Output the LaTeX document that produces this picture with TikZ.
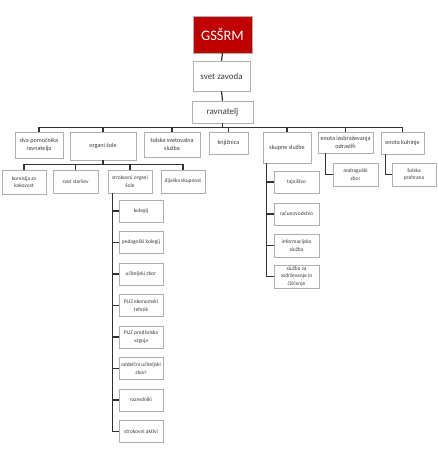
\documentclass[tikz,border=0pt]{standalone}
\usepackage{fontspec}
\setmainfont{Carlito}
\usepackage{tikz}
\usetikzlibrary{calc}
\definecolor{headfill}{RGB}{192,0,0}
\definecolor{boxedge}{RGB}{175,175,175}
\definecolor{lineedge}{RGB}{50,50,50}
\definecolor{textgray}{RGB}{60,60,60}

\begin{document}
\begin{tikzpicture}[
  x=1pt,y=-1pt,
  text=textgray,
  conn/.style={line width=1.2pt,draw=lineedge},
  headbox/.style={draw=boxedge,fill=headfill,line width=0.5pt,text=white,
    font=\fontsize{14.5}{16}\selectfont,inner sep=1pt},
  topbox/.style={draw=boxedge,fill=white,line width=0.5pt,align=center,
    font=\fontsize{9}{10}\selectfont,inner sep=1pt},
  unitbox/.style={draw=boxedge,fill=white,line width=0.5pt,align=center,
    font=\fontsize{6.2}{8.5}\selectfont,inner sep=1pt},
  subbox/.style={draw=boxedge,fill=white,line width=0.5pt,align=center,
    font=\fontsize{5.5}{7.5}\selectfont,inner sep=1pt}
]
\useasboundingbox (0,0) rectangle (437,460);

% -------------------------------------------------------------------------
% Top of the chart.
% -------------------------------------------------------------------------
\node[headbox,minimum width=59,minimum height=37] (gssrm) at (222.5,34.5) {GSŠRM};
\node[topbox,minimum width=57,minimum height=30] (svet) at (221.5,76) {svet zavoda};
\node[topbox,minimum width=61,minimum height=22] (ravn) at (222.5,112) {ravnatelj};
\draw[conn] (gssrm.south) -- (svet.north);
\draw[conn] (svet.south) -- (ravn.north);

% -------------------------------------------------------------------------
% Units under the headmaster.
% -------------------------------------------------------------------------
\node[unitbox,minimum width=48,minimum height=26] (pom) at (39,145)
  {dva pomočnika\\ravnatelja};
\node[unitbox,minimum width=66,minimum height=28] (organi) at (103,146) {organi šole};
\node[unitbox,minimum width=56,minimum height=25] (svetov) at (172,144.5)
  {šolska svetovalna\\služba};
\node[unitbox,minimum width=39,minimum height=22] (knj) at (228.5,143) {knjižnica};
\node[unitbox,minimum width=48,minimum height=31] (skupne) at (287,147.5) {skupne službe};
\node[unitbox,minimum width=55,minimum height=21] (odrasli) at (345.5,142.5)
  {enota izobraževanja\\odraslih};
\node[unitbox,minimum width=43,minimum height=22] (kuhinja) at (402.5,143) {enota kuhinje};
\foreach \b in {pom,organi,svetov,knj,skupne,odrasli,kuhinja}
  {\draw[conn] (ravn.south) -- ++(0,4) -| (\b.north);}

% -------------------------------------------------------------------------
% School bodies.
% -------------------------------------------------------------------------
\node[subbox,minimum width=44,minimum height=24] (komisija) at (24,182)
  {komisija za\\kakovost};
\node[subbox,minimum width=45,minimum height=23] (starsi) at (75.5,181.5) {svet staršev};
\node[subbox,minimum width=44,minimum height=23] (strok) at (130,181.5)
  {strokovni organi\\šole};
\node[subbox,minimum width=44,minimum height=23] (dijaki) at (183,181.5) {dijaška skupnost};
\foreach \b in {komisija,starsi,strok,dijaki}
  {\draw[conn] (organi.south) -- ++(0,4) -| (\b.north);}

% Expert bodies hang off one vertical trunk.
\node[subbox,minimum width=44,minimum height=22] (kolegij) at (141,211) {kolegij};
\node[subbox,minimum width=44,minimum height=22] (pedkol) at (141,242.5) {pedagoški kolegij};
\node[subbox,minimum width=44,minimum height=22] (uzbor) at (141,274) {učiteljski zbor};
\node[subbox,minimum width=44,minimum height=22] (puzet) at (141,305.5)
  {PUZ ekonomski\\tehnik};
\node[subbox,minimum width=44,minimum height=22] (puzpv) at (141,337)
  {PUZ predšolska\\vzgoja};
\node[subbox,minimum width=44,minimum height=22] (ouzbor) at (141,368.5)
  {oddelčni učiteljski\\zbori};
\node[subbox,minimum width=44,minimum height=22] (razred) at (141,400) {razredniki};
\node[subbox,minimum width=44,minimum height=22] (aktivi) at (141,431.5) {strokovni aktivi};
\coordinate (strokdrop) at ($(strok.south west)+(5,0)$);
\foreach \b in {kolegij,pedkol,uzbor,puzet,puzpv,ouzbor,razred,aktivi}
  {\draw[conn] (strokdrop) |- (\b.west);}

% -------------------------------------------------------------------------
% Common services.
% -------------------------------------------------------------------------
\node[subbox,minimum width=45,minimum height=22] (tajn) at (296.5,182) {tajništvo};
\node[subbox,minimum width=45,minimum height=22] (racun) at (296.5,214) {računovodstvo};
\node[subbox,minimum width=45,minimum height=23] (info) at (296.5,245.5)
  {informacijska\\služba};
\node[subbox,minimum width=45,minimum height=23] (vzdrz) at (296.5,276.5)
  {služba za\\vzdrževanje in\\čiščenje};
\coordinate (skupdrop) at ($(skupne.south west)+(4,0)$);
\foreach \b in {tajn,racun,info,vzdrz}
  {\draw[conn] (skupdrop) |- (\b.west);}

% Adult education and kitchen units.
\node[subbox,minimum width=45,minimum height=23] (andrag) at (355.5,174.5)
  {andragoški\\zbor};
\node[subbox,minimum width=44,minimum height=23] (prehrana) at (414,174.5)
  {šolska\\prehrana};
\draw[conn] ($(odrasli.south west)+(8,0)$) |- (andrag.west);
\draw[conn] ($(kuhinja.south west)+(5,0)$) |- (prehrana.west);
\end{tikzpicture}
\end{document}
